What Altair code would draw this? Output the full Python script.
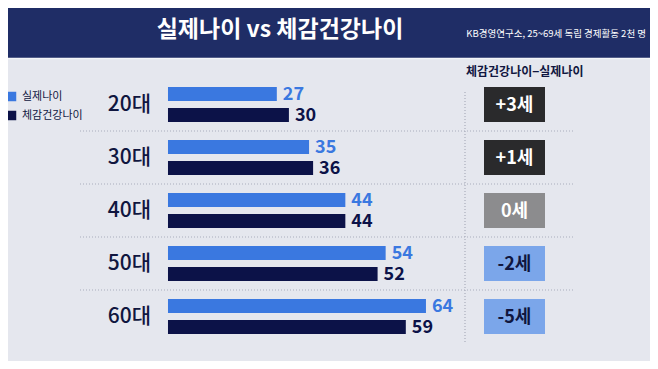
import altair as alt
import pandas as pd

ages = ["20대", "30대", "40대", "50대", "60대"]
actual = [27, 35, 44, 54, 64]
perceived = [30, 36, 44, 52, 59]
diff_labels = ["+3세", "+1세", "0세", "-2세", "-5세"]
diff_kind = ["plus", "plus", "zero", "minus", "minus"]
series_names = ["실제나이", "체감건강나이"]

FONT = "Noto Sans CJK KR"
W, H = 642, 353

rows = []
for a, v1, v2 in zip(ages, actual, perceived):
    rows.append({"age": a, "series": series_names[0], "value": v1})
    rows.append({"age": a, "series": series_names[1], "value": v2})
bars_df = pd.DataFrame(rows)
diff_df = pd.DataFrame({"age": ages, "label": diff_labels, "kind": diff_kind})
sep_df = pd.DataFrame({"age": ages[1:]})
title_df = pd.DataFrame({"t": ["실제나이 vs 체감건강나이"]})

y_scale = alt.Scale(domain=ages, range=[70, 335], paddingInner=0, paddingOuter=0)
x_scale = alt.Scale(domain=[-39.69, 119.58], range=[0, W], nice=False, zero=False)
yoff_scale = alt.Scale(domain=series_names, paddingInner=0.3333, paddingOuter=0.4286)
color_scale = alt.Scale(domain=series_names, range=["#3a78e0", "#0c1248"])

Y = alt.Y("age:N", scale=y_scale, axis=None)
YO = alt.YOffset("series:N", scale=yoff_scale)

banner = alt.Chart(title_df).mark_rect(color="#1f2d66").encode(
    x=alt.value(-8), x2=alt.value(W + 8), y=alt.value(-8), y2=alt.value(50)
)
banner_line = alt.Chart(title_df).mark_rule(color="#f4f5f8", strokeWidth=1.5).encode(
    x=alt.value(-8), x2=alt.value(W + 8), y=alt.value(50.5)
)
title = alt.Chart(title_df).mark_text(
    font=FONT, fontSize=23, fontWeight="bold", color="white", align="center", baseline="middle"
).encode(x=alt.value(272), y=alt.value(22), text="t:N")
subtitle = alt.Chart(title_df).mark_text(
    font=FONT, fontSize=9.5, color="white", align="right", baseline="middle",
    text="KB경영연구소, 25~69세 독립 경제활동 2천 명"
).encode(x=alt.value(638), y=alt.value(26))
header = alt.Chart(title_df).mark_text(
    font=FONT, fontSize=12, fontWeight="bold", color="#10163f", align="left", baseline="middle",
    text="체감건강나이−실제나이"
).encode(x=alt.value(458), y=alt.value(64))

seps = alt.Chart(sep_df).mark_rule(color="#a9adbb", strokeDash=[1, 2], strokeWidth=1.2).encode(
    y=alt.Y("age:N", scale=y_scale, axis=None, bandPosition=0),
    x=alt.value(72), x2=alt.value(567),
)
vline = alt.Chart(title_df).mark_rule(color="#a9adbb", strokeDash=[1, 2], strokeWidth=1.2).encode(
    x=alt.value(457), y=alt.value(84), y2=alt.value(336)
)

cat_labels = alt.Chart(diff_df).mark_text(
    font=FONT, fontSize=21, fontWeight=500, color="#10163f", align="right", baseline="middle"
).encode(y=Y, x=alt.value(143), text="age:N")

bars = alt.Chart(bars_df).mark_bar(size=14).encode(
    y=Y, yOffset=YO,
    x=alt.X("value:Q", scale=x_scale, axis=None),
    x2=alt.datum(0),
    color=alt.Color("series:N", scale=color_scale, legend=alt.Legend(
        title=None, orient="none", legendX=-2, legendY=83, symbolType="square",
        symbolSize=90, symbolStrokeWidth=0, labelFont=FONT, labelFontSize=11,
        labelColor="#10163f", rowPadding=7, padding=0, labelOffset=5,
    )),
)
values = alt.Chart(bars_df).mark_text(
    font=FONT, fontSize=18, fontWeight="bold", align="left", baseline="middle", dx=6, dy=1
).encode(
    y=Y, yOffset=YO,
    x=alt.X("value:Q", scale=x_scale, axis=None),
    text="value:Q",
    color=alt.Color("series:N", scale=color_scale, legend=None),
)

box_colors = alt.Scale(domain=["plus", "zero", "minus"], range=["#2a2a2c", "#8c8c8e", "#7ba6ea"])
text_colors = alt.Scale(domain=["plus", "zero", "minus"], range=["#ffffff", "#ffffff", "#10163f"])
boxes = alt.Chart(diff_df).mark_rect(height={"band": 0.66}).encode(
    y=Y, x=alt.value(476), x2=alt.value(537),
    fill=alt.Fill("kind:N", scale=box_colors, legend=None),
)
box_text = alt.Chart(diff_df).mark_text(
    font=FONT, fontSize=18, fontWeight="bold", align="center", baseline="middle", dy=1
).encode(
    y=Y, x=alt.value(506.5), text="label:N",
    color=alt.Color("kind:N", scale=text_colors, legend=None),
)

chart = alt.layer(
    banner, banner_line, title, subtitle, header, seps, vline, cat_labels,
    bars, values, boxes, box_text
).resolve_scale(color="independent").properties(
    width=W, height=H, padding=0, autosize=alt.AutoSizeParams(type="none"),
    background="#e5e7ee",
).configure_view(stroke=None)

chart.save("out.html", embed_options={"renderer": "svg", "actions": False})
